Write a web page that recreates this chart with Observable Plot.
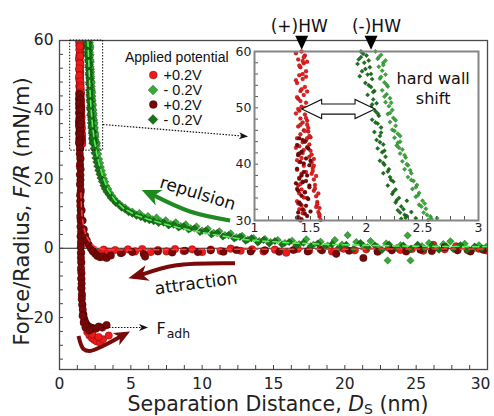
<!DOCTYPE html>
<html><head><meta charset="utf-8">
<script src="https://cdn.jsdelivr.net/npm/d3@7"></script>
<script src="https://cdn.jsdelivr.net/npm/@observablehq/plot@0.6"></script>
<style>
body{margin:0;background:#fff;}
#wrap{position:relative;width:494px;height:416px;overflow:hidden;background:#fff;}
#wrap > svg{position:absolute;}
</style></head><body><div id="wrap"></div>
<script>
// ---------------- data ----------------
const seriesNames = ["+0.2V", "- 0.2V", "+0.2V", "- 0.2V"];
const xTickLabels = [0, 5, 10, 15, 20, 25];
const xLastTickLabel = [30];
const yTickLabels = [-20, 0, 20, 40, 60];
const insetXTickLabels = [1, 1.5, 2, 2.5, 3];
const insetYTickLabels = [30, 40, 50, 60];

// +0.2V (bright red circles)
const redPts = [
[1.42,60.0],[1.45,59.3],[1.39,58.6],[1.44,57.9],[1.41,57.2],[1.46,56.5],[1.40,55.8],[1.43,55.1],[1.38,54.4],[1.45,53.7],
[1.41,53.0],[1.44,52.3],[1.39,51.6],[1.46,50.9],[1.42,50.2],[1.40,49.5],[1.45,48.8],[1.41,48.1],[1.43,47.4],[1.39,46.7],
[1.44,46.0],[1.41,45.3],[1.38,44.6],[1.43,43.9],[1.40,43.2],[1.44,42.5],[1.39,41.8],[1.42,41.1],[1.40,40.4],[1.44,39.7],
[1.38,39.0],[1.42,38.3],[1.40,37.6],[1.43,36.9],[1.39,36.2],[1.42,35.5],[1.40,34.8],[1.44,34.1],[1.38,33.4],[1.42,32.7],
[1.40,32.0],[1.43,31.3],[1.39,30.6],[1.41,30.0],
[1.37,59.7],[1.47,58.2],[1.43,56.0],[1.37,54.9],[1.47,52.9],[1.41,51.2],[1.37,49.0],[1.47,47.7],
[1.44,59.0],[1.40,57.5],[1.46,55.5],[1.42,53.3],[1.38,51.9],[1.45,50.0],[1.41,47.0],[1.46,44.2],[1.43,42.0],[1.38,40.7],
[1.46,38.6],[1.41,36.5],[1.45,35.0],[1.39,33.0],[1.44,31.8],[1.40,30.4],[1.43,58.3],[1.39,49.8],[1.45,45.9],[1.37,42.9],
[1.46,48.2],[1.47,47.0],[1.48,45.8],[1.47,44.6],[1.49,43.5],[1.50,42.4],[1.49,41.3],[1.51,40.3],[1.52,39.3],[1.51,38.3],
[1.53,37.3],[1.54,36.3],[1.53,35.3],[1.55,34.3],[1.56,33.3],[1.55,32.4],[1.57,31.5],[1.58,30.7],[1.59,30.1],[1.50,44.8],
[1.53,40.9],[1.55,37.9],[1.57,34.8],[1.58,32.2],[1.48,46.4],[1.51,41.7],[1.52,38.8],[1.54,35.7],[1.56,32.9],[1.58,31.1],
[1.49,45.0],[1.53,39.7],
[1.43,28.6],[1.46,26.1],[1.42,23.6],[1.47,21.1],[1.44,18.6],[1.48,16.1],[1.45,13.6],[1.49,11.1],[1.47,8.6],[1.50,6.1],
[1.48,3.6],[1.51,1.1],[1.50,-1.4],[1.52,-3.9],[1.51,-6.4],[1.54,-8.9],[1.53,-11.4],[1.57,-13.9],[1.60,-16.4],[1.65,-18.9],
[1.72,-21.2],[1.82,-22.9],[1.95,-24.2],[2.10,-25.2],[2.28,-26.0],[2.45,-26.5],[2.62,-26.9],[2.85,-27.2],[3.05,-26.3],[3.45,-25.2],
[2.00,-23.6],[2.30,-24.8],[1.90,-22.4],[2.75,-25.6],
[2.3,-0.6],[2.7,-1.3],[3.1,-0.4],[3.4,-1.0],[3.9,-0.5],[4.4,-1.2],[4.8,-0.3],[5.3,-0.9],[5.8,-0.2],[6.4,-1.1],
[6.9,-0.5],[7.5,-0.9],[8.1,-0.2],[8.7,-0.8],[9.3,-0.3],[10.0,-1.1],[10.6,-0.4],[11.3,-0.8],[12.0,-0.1],[12.7,-0.7],
[13.5,-0.3],[14.3,-0.9],[15.1,-0.4],[15.9,-1.3],[16.7,-0.2],[17.5,-0.7],[18.3,-0.3],[19.1,-0.9],[19.9,-0.1],[20.7,-0.6],
[21.5,-0.3],[22.3,-0.8],[23.1,0.1],[23.9,-0.5],[24.7,-0.2],[25.5,-0.7],[26.2,1.0],[27.0,-0.3],[27.8,0.6],[28.6,-0.5],
[29.4,-0.1],[29.9,-0.6]
];

// +0.2V (dark red circles)
const darkRedPts = [
[1.40,44.6],[1.45,44.0],[1.38,43.4],[1.48,42.8],[1.42,42.2],[1.39,41.6],[1.46,41.0],[1.41,40.4],[1.49,39.8],[1.38,39.2],
[1.44,38.6],[1.47,38.0],[1.40,37.4],[1.43,36.8],[1.49,36.2],[1.38,35.6],[1.45,35.0],[1.42,34.4],[1.48,33.8],[1.40,33.2],
[1.46,32.6],[1.43,32.0],[1.39,31.4],[1.47,30.8],[1.42,30.2],[1.50,31.6],[1.37,36.6],[1.50,40.6],
[1.43,44.3],[1.47,43.0],[1.40,41.9],[1.44,40.1],[1.42,38.0],[1.46,37.0],[1.39,35.3],[1.47,34.0],[1.41,32.9],[1.45,31.2],
[1.38,30.5],[1.49,35.9],
[1.45,28.8],[1.42,27.3],[1.47,25.8],[1.44,24.3],[1.48,22.8],[1.43,21.3],[1.47,19.8],[1.45,18.3],[1.49,16.8],[1.44,15.3],
[1.48,13.8],[1.46,12.3],[1.50,10.8],[1.46,9.3],[1.49,7.8],[1.47,6.3],[1.51,4.8],[1.48,3.3],[1.50,1.8],[1.49,0.3],
[1.52,-1.2],[1.50,-2.7],[1.53,-4.2],[1.51,-5.7],[1.54,-7.2],[1.52,-8.7],[1.55,-10.2],[1.54,-11.7],[1.57,-13.2],[1.56,-14.7],
[1.60,-16.2],[1.63,-17.7],[1.68,-19.2],[1.74,-20.4],[1.82,-21.4],[1.92,-22.1],[2.05,-22.6],[2.20,-22.9],[2.38,-23.1],[2.55,-23.2],
[2.75,-22.6],[3.00,-22.9],[3.30,-22.2],[1.70,-21.5],[1.85,-22.8],[2.10,-23.7],[1.62,-19.5],
[1.55,11.0],[1.62,8.0],[1.70,5.5],[1.80,3.6],[1.92,2.2],[2.05,1.0],[2.20,0.0],[2.35,-0.9],[2.50,-1.6],[2.65,-2.2],
[2.85,-2.6],[3.05,-2.4],[3.30,-2.8],[3.60,-2.1],[4.3,-1.4],[5.1,-1.1],[5.9,-1.6],[6.0,-2.4],[6.9,-0.9],[7.9,-1.2],
[8.8,-0.7],[9.7,-1.1],[10.6,-0.6],[11.5,-1.0],[12.4,-0.5],[13.4,-0.9],[14.4,-0.6],[15.4,-1.0],[16.4,-0.5],[17.4,-0.9],
[18.4,-0.6],[19.4,-1.6],[20.3,-0.7],[21.3,-2.8],[22.3,-1.0],[23.3,-0.6],[24.3,-0.9],[25.3,-0.4],[26.1,-0.8],[27.0,0.3],
[27.9,-0.6],[28.8,-0.9],[29.7,-0.4]
];

// -0.2V (bright green diamonds)
const greenPts = [
[2.08,60.0],[2.13,59.4],[2.10,58.7],[2.15,58.0],[2.11,57.3],[2.14,56.6],[2.17,55.9],[2.12,55.2],[2.16,54.5],[2.19,53.8],
[2.14,53.1],[2.18,52.4],[2.21,51.7],[2.17,51.0],[2.20,50.3],[2.23,49.6],[2.19,48.9],[2.24,48.2],[2.21,47.5],[2.26,46.8],
[2.23,46.1],[2.28,45.4],[2.25,44.7],[2.30,44.0],[2.27,43.3],[2.32,42.6],[2.30,41.9],[2.35,41.2],[2.32,40.5],[2.37,39.8],
[2.34,39.1],[2.40,38.4],[2.37,37.7],[2.42,37.0],[2.45,36.3],[2.41,35.6],[2.47,34.9],[2.44,34.2],[2.50,33.5],[2.47,32.8],
[2.53,32.1],[2.51,31.4],[2.57,30.7],[2.55,30.1],[2.61,29.6],[2.63,30.4],
[2.11,59.0],[2.15,57.6],[2.13,55.5],[2.18,54.1],[2.16,52.0],[2.22,50.9],[2.21,49.1],[2.26,47.8],[2.25,45.9],[2.30,45.0],
[2.29,42.9],[2.34,41.6],[2.36,40.0],[2.39,38.9],[2.40,37.2],[2.44,35.9],[2.46,34.5],[2.49,32.5],[2.54,31.0],[2.58,30.3],
[2.17,58.4],[2.28,43.8],[2.52,33.0],
[2.66,28.5],[2.72,27.2],[2.78,25.8],[2.85,24.6],[2.90,23.5],[2.97,22.4],[3.05,21.2],[3.12,20.1],[3.20,19.2],[3.30,18.0],
[3.42,17.1],[3.55,16.0],[3.68,15.2],[3.85,14.3],[4.02,13.4],[4.2,12.9],[4.4,12.1],[4.6,11.8],[4.85,10.9],[5.1,10.6],
[5.35,9.8],[5.6,10.2],[5.9,9.1],[6.2,9.3],[6.5,8.4],[6.8,8.9],[7.1,7.8],[7.45,8.1],[7.8,7.0],[8.15,7.5],
[8.5,6.4],[8.85,6.9],[9.2,5.8],[9.6,6.3],[10.0,5.1],[10.4,5.6],[10.8,4.5],[11.2,4.9],[11.6,3.8],[12.0,4.3],
[12.4,3.2],[12.8,3.6],[13.2,2.5],[13.6,3.0],[14.0,2.1],[14.4,2.7],[14.8,1.8],[15.3,2.4],[15.8,1.5],[16.3,2.2],
[16.8,1.2],[17.3,2.6],[17.8,1.0],[18.3,1.9],[18.8,0.8],[19.3,2.4],[19.8,1.1],[20.2,3.8],[20.8,1.8],[21.3,0.7],
[21.8,2.1],[22.3,0.4],[22.9,1.4],[23.0,-3.5],[23.9,0.9],[24.4,3.7],[24.6,-3.5],[25.4,0.6],[25.9,1.5],[26.4,0.2],
[26.9,1.2],[27.4,2.0],[27.9,0.3],[28.4,1.3],[28.9,-0.8],[29.4,0.9],[29.9,0.4]
];

// -0.2V (dark green diamonds)
const darkGreenPts = [
[1.95,60.0],[2.00,59.3],[1.93,58.6],[1.98,58.0],[2.03,57.2],[1.96,56.5],[2.01,55.9],[2.05,55.1],[1.99,54.4],[2.04,53.7],
[2.07,53.0],[2.01,52.3],[2.06,51.5],[2.09,50.8],[2.04,50.1],[2.08,49.4],[2.11,48.6],[2.05,47.9],[2.10,47.2],[2.13,46.5],
[2.07,45.7],[2.12,45.0],[2.09,44.3],[2.15,43.5],[2.10,42.8],[2.14,42.1],[2.17,41.3],[2.12,40.6],[2.16,39.9],[2.20,39.1],
[2.15,38.4],[2.21,37.7],[2.24,36.9],[2.19,36.2],[2.26,35.5],[2.23,34.7],[2.29,34.0],[2.26,33.2],[2.31,32.5],[2.28,31.8],
[2.34,31.0],[2.31,30.3],[2.36,30.8],[1.92,57.8],[1.94,55.6],[2.40,31.5],[2.44,30.4],[2.36,33.5],
[1.97,59.6],[2.02,58.4],[1.99,56.9],[2.04,56.0],[2.02,54.0],[2.06,52.8],[2.05,50.6],[2.10,49.0],[2.08,47.4],[2.13,45.6],
[2.12,43.9],[2.16,42.4],[2.15,40.2],[2.19,38.7],[2.22,37.2],[2.24,35.1],[2.27,33.6],[2.30,31.4],[2.35,30.5],[1.95,59.0],
[2.33,32.0],
[2.40,28.8],[2.45,27.5],[2.52,26.1],[2.58,24.9],[2.65,23.7],[2.72,22.5],[2.80,21.4],[2.88,20.3],[2.97,19.3],[3.08,18.1],
[3.18,17.2],[3.30,16.3],[3.45,15.5],[3.6,14.6],[3.78,13.9],[3.95,13.1],[4.15,12.6],[4.35,11.7],[4.6,11.2],[4.85,10.4],
[5.1,10.0],[5.4,9.4],[5.7,9.0],[6.0,8.5],[6.3,8.1],[6.6,7.8],[6.95,7.3],[7.3,7.4],[7.65,6.6],[8.0,6.8],
[8.35,6.0],[8.7,6.3],[9.05,5.4],[9.45,5.7],[9.85,4.7],[10.25,5.1],[10.65,4.0],[11.05,4.4],[11.45,3.4],[11.85,3.8],
[12.25,2.8],[12.65,3.3],[13.05,2.2],[13.45,2.9],[13.9,1.7],[14.3,2.4],[14.7,1.4],[15.1,2.1],[15.6,1.1],[16.1,1.8],
[16.6,0.9],[17.1,1.6],[17.6,0.6],[18.1,1.4],[18.6,0.4],[19.1,1.2],[19.6,0.2],[20.1,1.0],[20.6,-0.2],[21.1,1.5],
[21.6,0.3],[22.1,0.9],[22.6,-0.5],[23.1,1.1],[23.6,0.1],[24.1,0.8],[24.6,-0.3],[25.1,1.0],[25.6,-0.1],[26.1,0.7],
[26.6,-0.4],[27.1,0.6],[27.6,-0.2],[28.1,0.9],[28.6,-0.5],[29.1,0.5],[29.6,-0.1]
];

// dashed fit curves
const greenFit = [[1.99,60],[2.05,54],[2.12,47],[2.2,41],[2.32,35],[2.45,31],[2.6,27.5],[2.8,24],[3.05,20.5],[3.4,16.8],
[3.9,13.8],[4.5,11.5],[5.3,9.7],[6.2,8.4],[7.2,7.2],[8.3,6.0],[9.4,5.0],[10.6,4.1],[11.8,3.3],[13.0,2.5],[14.5,2.0],
[16.5,1.5],[19,1.1],[22,0.8],[25,0.6],[28,0.5],[30,0.45]];
const redFit = [[1.50,16],[1.54,12],[1.59,9],[1.70,6],[1.85,3.8],[2.05,2.3],[2.2,1.5],[2.45,0.5],[2.8,-0.1],[3.3,-0.4],
[4.5,-0.5],[7,-0.4],[12,-0.3],[20,-0.25],[30,-0.2]];

// ---------------- styles ----------------
const C = {red:"#ee1a1a", darkRed:"#780808", green:"#35aa35", darkGreen:"#187218", fitGreen:"#55f055", fitRed:"#ff3a3a"};
const FONT = "DejaVu Sans";
const LEG_FONT = "Liberation Sans, Arial, sans-serif";
const W = 494, H = 416;
const M = {l:59, r:7, t:40, b:47};
const xDom = [0, 30], yDom = [-35, 60];
const xMinor = d3.range(0, 30.001, 1.25);
const yMinor = d3.range(-32, 60.001, 4);
const pxX = (W - M.l - M.r) / (xDom[1]-xDom[0]);
const pxY = (H - M.t - M.b) / (yDom[1]-yDom[0]);
const TL = 4;

const X = d => d[0], Y = d => d[1];
const dotOpts = (fill, r, symbol) => ({x: X, y: Y, r, fill, symbol, stroke:"#000", strokeWidth:0.5, strokeOpacity:0.45, clip:true});

const main = Plot.plot({
  width: W, height: H, marginLeft: M.l, marginRight: M.r, marginTop: M.t, marginBottom: M.b,
  x: {domain: xDom}, y: {domain: yDom},
  style: {fontFamily: FONT, background: "transparent", color: "#222"},
  marks: [
    Plot.ruleY([0], {stroke: "#222", strokeWidth: 1.1}),
    Plot.dot(redPts, dotOpts(C.red, 3.8, "circle")),
    Plot.dot(greenPts, dotOpts(C.green, 3.4, "diamond2")),
    Plot.dot(darkRedPts, dotOpts(C.darkRed, 3.8, "circle")),
    Plot.dot(darkGreenPts, dotOpts(C.darkGreen, 3.4, "diamond2")),
    Plot.line(greenFit, {x: X, y: Y, stroke: C.fitGreen, strokeWidth: 1.6, strokeDasharray: "6,4", clip: true}),
    Plot.line(redFit, {x: X, y: Y, stroke: C.fitRed, strokeWidth: 1.5, strokeDasharray: "5,4", clip: true}),
    Plot.ruleX(xMinor, {x: d => d, y1: yDom[0], y2: yDom[0] + TL/pxY, stroke: "#444"}),
    Plot.ruleY(yMinor, {y: d => d, x1: xDom[0], x2: xDom[0] + TL/pxX, stroke: "#444"}),
    Plot.frame({stroke: "#4a4a4a", strokeWidth: 1.3}),
    Plot.axisX(xTickLabels, {tickSize: 0, tickPadding: 8, fontSize: 15.5, label: null, tickFormat: d => String(d)}),
    Plot.axisX(xLastTickLabel, {tickSize: 0, tickPadding: 8, fontSize: 15.5, label: null, tickFormat: d => String(d), dx: -7}),
    Plot.axisY(yTickLabels, {tickSize: 0, tickPadding: 6, fontSize: 15.5, label: null, tickFormat: d => String(d)})
  ]
});
main.style.left = "0px"; main.style.top = "0px";
document.getElementById("wrap").appendChild(main);

// ---------------- inset ----------------
const IM = {left: 230, top: 0, w: 257, h: 235, l: 24, r: 9, t: 51, b: 15};
const ixDom = [1, 3], iyDom = [30, 60];
const ipxX = (IM.w - IM.l - IM.r) / (ixDom[1]-ixDom[0]);
const ipxY = (IM.h - IM.t - IM.b) / (iyDom[1]-iyDom[0]);
const inBox = ([x, y]) => x >= ixDom[0] && x <= ixDom[1] && y >= iyDom[0] && y <= iyDom[1];
const idot = (fill, r, symbol) => ({x: X, y: Y, r, fill, symbol, stroke:"#000", strokeWidth:0.35, strokeOpacity:0.5});

const inset = Plot.plot({
  width: IM.w, height: IM.h, marginLeft: IM.l, marginRight: IM.r, marginTop: IM.t, marginBottom: IM.b,
  x: {domain: ixDom}, y: {domain: iyDom},
  style: {fontFamily: FONT, background: "transparent", color: "#222"},
  marks: [
    Plot.frame({fill: "white"}),
    Plot.dot(redPts.filter(inBox), idot(C.red, 2, "circle")),
    Plot.dot(greenPts.filter(inBox), idot(C.green, 2, "diamond2")),
    Plot.dot(darkRedPts.filter(inBox), idot(C.darkRed, 2, "circle")),
    Plot.dot(darkGreenPts.filter(inBox), idot(C.darkGreen, 2, "diamond2")),
    Plot.ruleX(d3.range(1, 3.001, 0.125), {x: d => d, y1: iyDom[0], y2: iyDom[0] + TL/ipxY, stroke: "#555"}),
    Plot.ruleY(d3.range(30, 60.001, 2), {y: d => d, x1: ixDom[0], x2: ixDom[0] + TL/ipxX, stroke: "#555"}),
    Plot.frame({stroke: "#858585", strokeWidth: 2}),
    Plot.axisX(insetXTickLabels, {tickSize: 0, tickPadding: 3, fontSize: 12.5, label: null, tickFormat: d => String(d)}),
    Plot.axisY(insetYTickLabels, {tickSize: 0, tickPadding: 3, fontSize: 12.5, label: null, tickFormat: d => String(d)}),
    Plot.text(["(+)HW", "(-)HW"], {x: [1.399, 2.089], y: [63.46, 63.46], text: d => d, fontSize: 17, lineAnchor: "bottom", fill: "#111"}),
    Plot.text(["hard wall\nshift"], {x: [2.595], y: [50.68], text: d => d, fontSize: 16, lineAnchor: "bottom", lineHeight: 1.25, fill: "#111"})
  ]
});
inset.style.left = IM.left + "px"; inset.style.top = IM.top + "px";
document.getElementById("wrap").appendChild(inset);

// ---------------- annotations (placed through the plots' scales) ----------------
function projector(chart) {
  const sx = chart.scale("x"), sy = chart.scale("y");
  return p => [sx.apply(p[0]), sy.apply(p[1])];
}
const MP = projector(main), IP = projector(inset);
const gm = d3.select(main).append("g").attr("text-anchor", "start");
const gi = d3.select(inset).append("g");

function arrow(g, P, ptsData, tipData, o) {
  const pts = ptsData.map(P), t = P(tipData);
  const last = pts[pts.length - 1];
  let dx = t[0] - last[0], dy = t[1] - last[1];
  const L = Math.hypot(dx, dy); dx /= L; dy /= L;
  const end = [t[0] - dx * o.headLen * 0.7, t[1] - dy * o.headLen * 0.7];
  const line = d3.line().curve(d3.curveCatmullRom.alpha(0.5));
  g.append("path").attr("d", line([...pts, end])).attr("fill", "none")
    .attr("stroke", o.color).attr("stroke-width", o.width)
    .attr("stroke-dasharray", o.dash || null);
  const nx = -dy, ny = dx, hw = o.headW / 2;
  const b = [t[0] - dx * o.headLen, t[1] - dy * o.headLen];
  const n = [t[0] - dx * o.headLen * 0.72, t[1] - dy * o.headLen * 0.72];
  g.append("path")
    .attr("d", `M${t[0]},${t[1]}L${b[0] + nx * hw},${b[1] + ny * hw}L${n[0]},${n[1]}L${b[0] - nx * hw},${b[1] - ny * hw}Z`)
    .attr("fill", o.color);
}

// dotted zoom box and its arrow
{
  const a = MP([0.75, 60]), b = MP([3.06, 28.2]);
  gm.append("rect").attr("x", a[0]).attr("y", a[1]).attr("width", b[0] - a[0]).attr("height", b[1] - a[1])
    .attr("fill", "none").attr("stroke", "#111").attr("stroke-width", 1).attr("stroke-dasharray", "1.5,1.5");
}
arrow(gm, MP, [[3.08, 35.6]], [13.25, 32.14], {color: "#111", width: 1.2, headLen: 9, headW: 7, dash: "1.5,1.5"});
// repulsion arrow (green)
arrow(gm, MP, [[11.99, 7.88], [9.18, 10.48]], [5.80, 16.69], {color: "#1f8a1f", width: 4, headLen: 19, headW: 17});
// attraction arrow (dark red)
arrow(gm, MP, [[12.34, -4.48], [8.13, -5.11]], [4.86, -8.81], {color: "#7a0a0a", width: 4, headLen: 20, headW: 16});
// hook arrow at the adhesion minimum
arrow(gm, MP, [[1.367, -25.47], [1.717, -29.22], [2.17, -29.8], [3.15, -28.21]], [4.98, -24.17], {color: "#7a0a0a", width: 4, headLen: 16, headW: 14});
// F_adh dotted arrow
arrow(gm, MP, [[3.08, -23.02]], [6.24, -23.02], {color: "#111", width: 1.2, headLen: 9, headW: 7, dash: "1.5,1.5"});
{
  const p = MP([6.83, -24.75]);
  const t = gm.append("text").attr("x", p[0]).attr("y", p[1]).attr("text-anchor", "start").attr("font-family", FONT).attr("font-size", 16).attr("fill", "#111");
  t.append("tspan").text("F");
  t.append("tspan").attr("font-size", 12.5).attr("dy", 4).attr("dx", 1).text("adh");
}
{
  const p = MP([9.74, 15.82]);
  gm.append("text").attr("transform", `translate(${p[0]},${p[1]}) rotate(17)`).attr("text-anchor", "middle")
    .attr("dominant-baseline", "central").attr("font-family", FONT).attr("font-size", 17).attr("fill", "#111").text("repulsion");
  const q = MP([9.60, -10.17]);
  gm.append("text").attr("transform", `translate(${q[0]},${q[1]}) rotate(-7.5)`).attr("text-anchor", "middle")
    .attr("dominant-baseline", "central").attr("font-family", FONT).attr("font-size", 17).attr("fill", "#111").text("attraction");
}

// legend
{
  const lg = gm.append("g").attr("font-family", LEG_FONT).attr("fill", "#111").attr("text-anchor", "start");
  lg.append("text").attr("x", 125).attr("y", 62).attr("font-size", 14).text("Applied potential");
  const rows = [
    {y: 75, c: C.red, s: "circle"}, {y: 90, c: C.green, s: "diamond"},
    {y: 104.5, c: C.darkRed, s: "circle"}, {y: 119.5, c: C.darkGreen, s: "diamond"}
  ];
  rows.forEach((r, i) => {
    if (r.s === "circle") lg.append("circle").attr("cx", 153.3).attr("cy", r.y).attr("r", 4).attr("fill", r.c).attr("stroke", "rgba(0,0,0,0.4)").attr("stroke-width", 0.5);
    else lg.append("path").attr("d", `M153,${r.y - 5}L158,${r.y}L153,${r.y + 5}L148,${r.y}Z`).attr("fill", r.c).attr("stroke", "rgba(0,0,0,0.4)").attr("stroke-width", 0.5);
    lg.append("text").attr("x", 163.5).attr("y", r.y + 5.2).attr("font-size", 14.5).text(seriesNames[i]);
  });
}

// axis titles
{
  const tx = gm.append("text").attr("x", 278).attr("y", 411).attr("text-anchor", "middle")
    .attr("font-family", FONT).attr("font-size", 20.5).attr("fill", "#222");
  tx.append("tspan").text("Separation Distance, ");
  tx.append("tspan").attr("font-style", "italic").text("D");
  tx.append("tspan").attr("font-size", 14).attr("dy", 3).text("S");
  tx.append("tspan").attr("dy", -3).text(" (nm)");
  const ty = gm.append("text").attr("transform", "translate(29,211.5) rotate(-90)").attr("text-anchor", "middle")
    .attr("font-family", FONT).attr("font-size", 21).attr("fill", "#222");
  ty.append("tspan").text("Force/Radius, ");
  ty.append("tspan").attr("font-style", "italic").text("F/R");
  ty.append("tspan").text(" (mN/m)");
}

// inset: hard wall markers and double arrow
[1.426, 2.045].forEach(x => {
  const a = IP([x - 0.058, 62.7]), b = IP([x + 0.058, 62.7]), c = IP([x, 60.23]);
  gi.append("path").attr("d", `M${a}L${b}L${c}Z`).attr("fill", "#000");
});
{
  const poly = [[1.426,49.7],[1.604,51.4],[1.604,50.6],[1.902,50.6],[1.902,51.4],[2.08,49.7],[1.902,48.0],[1.902,48.8],[1.604,48.8],[1.604,48.0]];
  gi.append("path").attr("d", "M" + poly.map(IP).join("L") + "Z").attr("fill", "#fff").attr("stroke", "#111").attr("stroke-width", 1.1);
}
</script></body></html>
